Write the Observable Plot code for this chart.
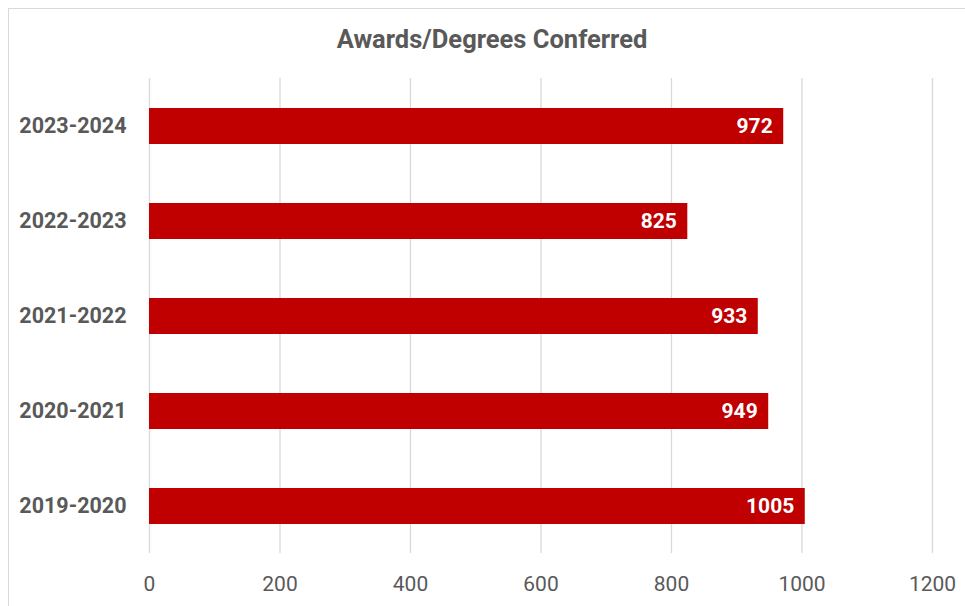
<!DOCTYPE html>
<html>
<head>
<meta charset="utf-8">
<script src="https://cdn.jsdelivr.net/npm/d3@7"></script>
<script src="https://cdn.jsdelivr.net/npm/@observablehq/plot@0.6"></script>
<style>
  html, body { margin: 0; padding: 0; background: #fff; overflow: hidden; }
  #chart { position: relative; width: 965px; height: 606px; overflow: hidden; font-family: Roboto, "Liberation Sans", sans-serif; }
  #frame { position: absolute; left: 8px; top: 8px; width: 1000px; height: 700px; border: 1.5px solid #d9d9d9; box-sizing: border-box; }
  #title { position: absolute; left: 0; top: 24px; width: 984px; text-align: center; font-size: 25.5px; font-weight: bold; color: #595959; line-height: 30px; }
  #plot { position: absolute; left: 0; top: 0; }
</style>
</head>
<body>
<div id="chart">
  <div id="frame"></div>
  <div id="plot"></div>
  <div id="title">Awards/Degrees Conferred</div>
</div>
<script>
// Academic years, top to bottom
const years = ["2023-2024", "2022-2023", "2021-2022", "2020-2021", "2019-2020"];
// Awards and degrees conferred in each year
const awards = [972, 825, 933, 949, 1005];
// Horizontal axis ticks
const xTicks = [0, 200, 400, 600, 800, 1000, 1200];

const rows = years.map((year, i) => ({year, count: awards[i]}));

const chart = Plot.plot({
  width: 965,
  height: 606,
  marginLeft: 149,
  marginRight: 33,
  marginTop: 78,
  marginBottom: 53,
  style: {fontFamily: "Roboto, 'Liberation Sans', sans-serif", background: "transparent", overflow: "visible"},
  x: {domain: [0, 1200], ticks: xTicks},
  y: {domain: years, paddingInner: 0.626, paddingOuter: 0.313},
  marks: [
    Plot.gridX(xTicks, {stroke: "#d9d9d9", strokeOpacity: 1, strokeWidth: 1.3}),
    Plot.barX(rows, {x: "count", y: "year", fill: "#c00000"}),
    Plot.text(rows, {x: "count", y: "year", text: d => String(d.count), textAnchor: "end", dx: -11, fill: "white", fontWeight: "bold", fontSize: 21}),
    Plot.axisX(xTicks, {tickSize: 0, tickPadding: 23, fontSize: 21, fill: "#595959", label: null, tickFormat: d => String(d)}),
    Plot.axisY({tickSize: 0, tickPadding: 23, fontSize: 21.5, fontWeight: "bold", fill: "#595959", label: null})
  ]
});
document.getElementById("plot").appendChild(chart);
</script>
</body>
</html>
